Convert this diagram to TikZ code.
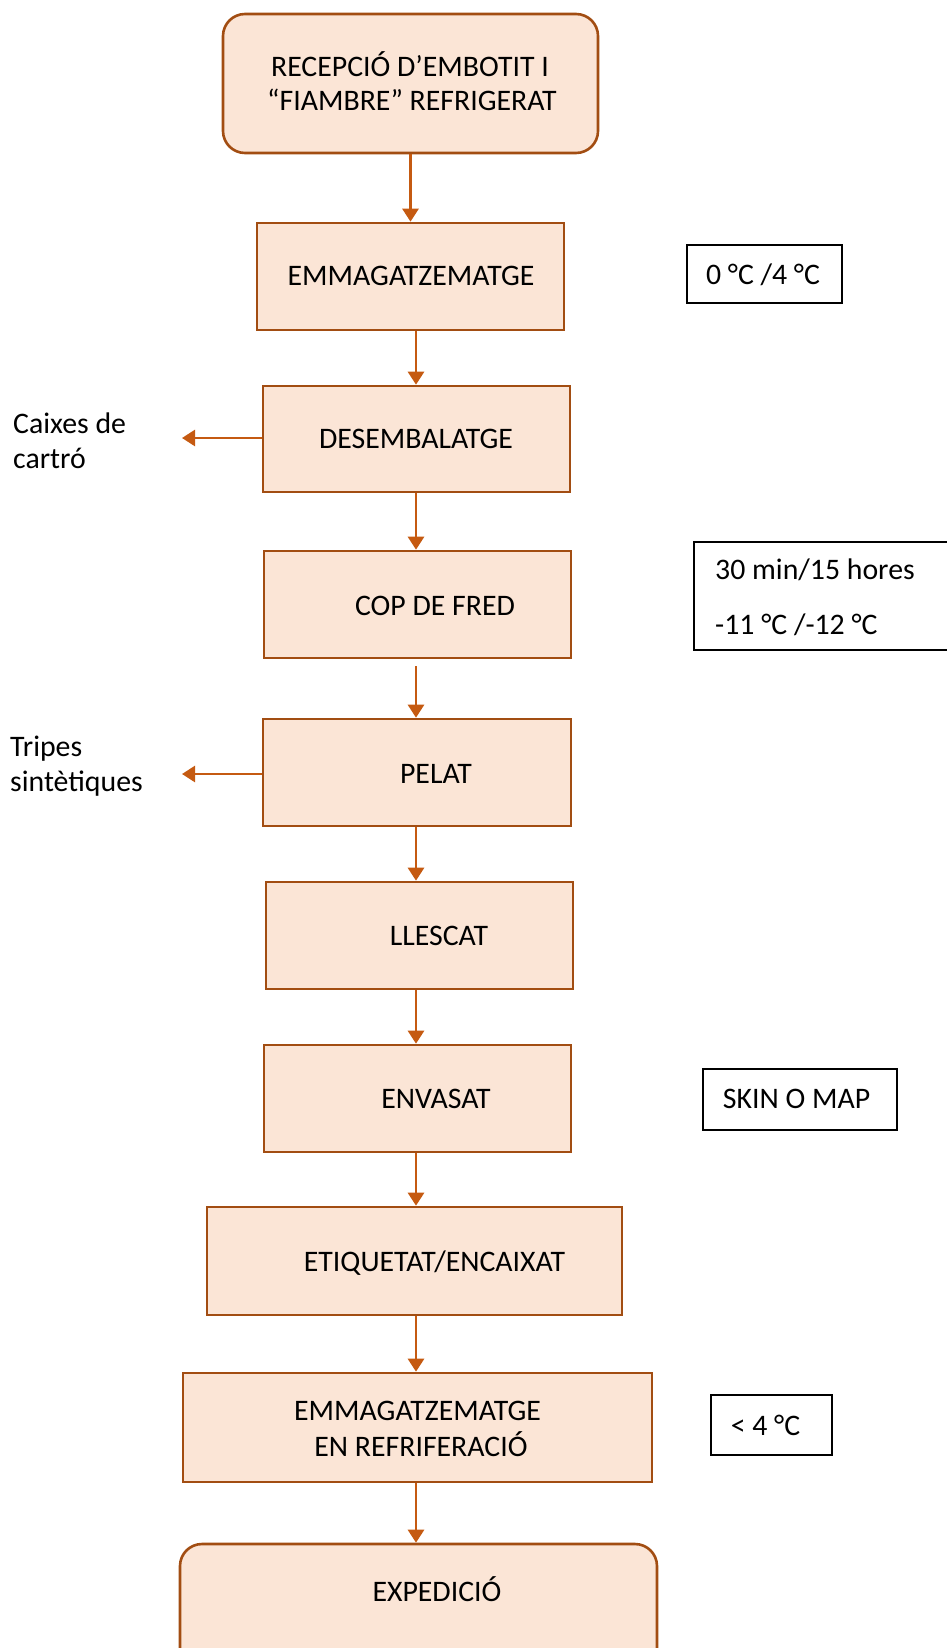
\documentclass[tikz,border=0pt]{standalone}
\usepackage{fontspec}
\setmainfont{Carlito}
\usetikzlibrary{arrows.meta}
\definecolor{boxfill}{HTML}{FBE5D6}
\definecolor{boxline}{HTML}{A24D12}
\definecolor{flowc}{HTML}{C55A11}
\begin{document}
\begin{tikzpicture}[x=1pt,y=-1pt,
  every node/.style={font=\fontsize{29.8}{35}\selectfont},
  stepbox/.style={draw=boxline, fill=boxfill, line width=2.6pt, inner sep=0pt},
  endbox/.style={stepbox, rounded corners=22pt},
  infobox/.style={draw=black, line width=1.6pt, fill=white, inner sep=0pt},
  lbl/.style={inner sep=0pt, anchor=base},
  sidelbl/.style={inner sep=0pt, anchor=base west},
  flow/.style={draw=flowc, line width=2.7pt, -{Triangle[width=16pt,length=13pt]}}
]
\useasboundingbox (0,0) rectangle (947,1648);
\clip (0,0) rectangle (947,1648);

% process steps
\node[endbox,  minimum width=375pt, minimum height=139pt] (b1)  at (410.5,83.5) {};
\node[stepbox, minimum width=307pt, minimum height=107pt] (b2)  at (410.5,276.5) {};
\node[stepbox, minimum width=307pt, minimum height=106pt] (b3)  at (416.5,439) {};
\node[stepbox, minimum width=307pt, minimum height=107pt] (b4)  at (417.5,604.5) {};
\node[stepbox, minimum width=308pt, minimum height=107pt] (b5)  at (417,772.5) {};
\node[stepbox, minimum width=307pt, minimum height=107pt] (b6)  at (419.5,935.5) {};
\node[stepbox, minimum width=307pt, minimum height=107pt] (b7)  at (417.5,1098.5) {};
\node[stepbox, minimum width=415pt, minimum height=108pt] (b8)  at (414.5,1261) {};
\node[stepbox, minimum width=469pt, minimum height=109pt] (b9)  at (417.5,1427.5) {};
\node[endbox,  minimum width=477pt, minimum height=156pt] (b10) at (418.5,1622) {};

% step labels
\node[lbl] (t1a) at (410,77)   {RECEPCIÓ D’EMBOTIT I};
\node[lbl] (t1b) at (412,111)  {“FIAMBRE” REFRIGERAT};
\node[lbl] (t2)  at (411,285)  {EMMAGATZEMATGE};
\node[lbl] (t3)  at (416,448)  {DESEMBALATGE};
\node[lbl] (t4)  at (435,615)  {COP DE FRED};
\node[lbl] (t5)  at (436,783)  {PELAT};
\node[lbl] (t6)  at (439,945)  {LLESCAT};
\node[lbl] (t7)  at (436,1108) {ENVASAT};
\node[lbl] (t8)  at (434.5,1271) {ETIQUETAT/ENCAIXAT};
\node[lbl] (t9a) at (417.5,1420) {EMMAGATZEMATGE};
\node[lbl] (t9b) at (421,1456) {EN REFRIFERACIÓ};
\node[lbl] (t10) at (437,1601) {EXPEDICIÓ};

% conditions
\node[infobox, minimum width=155pt, minimum height=58pt]  (i1) at (764.5,274) {};
\node[infobox, minimum width=268pt, minimum height=108pt] (i2) at (828,596) {};
\node[infobox, minimum width=194pt, minimum height=61pt]  (i3) at (800,1099.5) {};
\node[infobox, minimum width=121pt, minimum height=60pt]  (i4) at (771.5,1425) {};
\node[lbl] (c1) at (763,284) {0 °C /4 °C};
\node[sidelbl] (c2a) at (715,579) {30 min/15 hores};
\node[sidelbl] (c2b) at (715,634) {-11 °C /-12 °C};
\node[lbl] (c3) at (796.5,1108) {SKIN O MAP};
\node[lbl] (c4) at (765.5,1435) {< 4 °C};

% by-products
\node[sidelbl] (w1a) at (13,433) {Caixes de};
\node[sidelbl] (w1b) at (13,468) {cartró};
\node[sidelbl] (w2a) at (10,756) {Tripes};
\node[sidelbl] (w2b) at (10,791) {sintètiques};
\coordinate (out1) at (182,438);
\coordinate (out2) at (182,774);

% main flow line
\coordinate (spine) at (416,0);
\draw[flow] (b1.south) -- (b1.south |- b2.north);
\draw[flow] (spine |- b2.south) -- (spine |- b3.north);
\draw[flow] (spine |- b3.south) -- (spine |- b4.north);
\draw[flow, shorten <=7pt] (spine |- b4.south) -- (spine |- b5.north);
\draw[flow] (spine |- b5.south) -- (spine |- b6.north);
\draw[flow] (spine |- b6.south) -- (spine |- b7.north);
\draw[flow] (spine |- b7.south) -- (spine |- b8.north);
\draw[flow] (spine |- b8.south) -- (spine |- b9.north);
\draw[flow] (spine |- b9.south) -- (spine |- b10.north);

% side outputs
\draw[flow] (b3.west |- out1) -- (out1);
\draw[flow] (b5.west |- out2) -- (out2);
\end{tikzpicture}
\end{document}
